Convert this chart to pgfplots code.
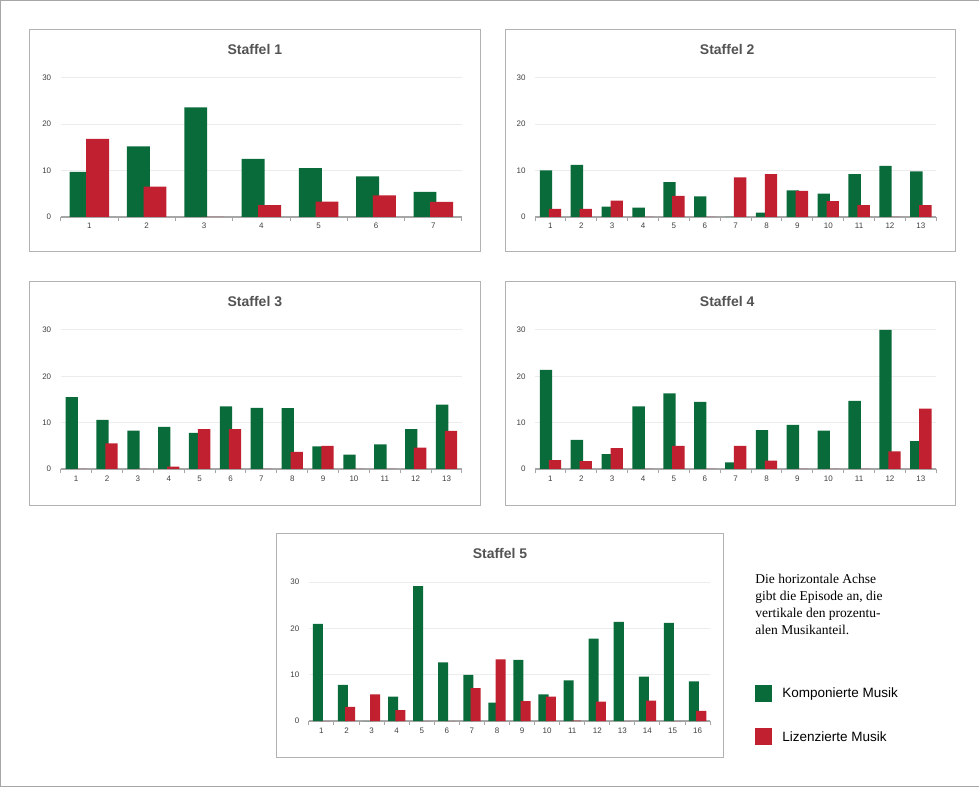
\documentclass[border=0pt]{standalone}
\usepackage{pgfplots}
\pgfplotsset{compat=1.18}
\usepackage{fontspec}
\setmainfont{Liberation Sans}
\newfontfamily\serif{Liberation Serif}
\definecolor{kgreen}{HTML}{0A6B3A}
\definecolor{kred}{HTML}{C0202F}
\definecolor{tgray}{HTML}{404040}
\pgfplotsset{panel/.style={
  scale only axis, width=401pt, height=139pt, anchor=south west,
  ymin=0, ymax=30, ytick={0,10,20,30}, clip=false,
  axis x line=bottom, axis y line=left,
  y axis line style={draw=none}, x axis line style={draw=gray!70, line width=1.5pt, -},
  ymajorgrids, grid style={gray!15, line width=0.8pt},
  major tick length=0pt, minor tick length=4pt,
  tick align=outside, minor tick style={gray!70, line width=1pt},
  ticklabel style={font=\fontsize{8}{9}\selectfont, text=tgray},
  yticklabel style={xshift=-6pt}, xticklabel style={yshift=-3pt},
  /pgf/number format/assume math mode=true,
  ybar, bar width=0.4, enlarge x limits=false,
  every axis plot/.append style={draw=none}
}}
\begin{document}
\begin{tikzpicture}[x=1pt,y=1pt]
\draw[gray!70] (0.5,0.5) rectangle (978.5,786.5);
\foreach \a/\b/\c/\d in {30/535/480/757,505/535/955/757,30/282/480/505,505/282/955/505,277/30/723/254}
  \draw[gray!60, line width=0.8pt] (\a,\b) rectangle (\c,\d);
\node[font=\bfseries\fontsize{14}{16}\selectfont, text=tgray!90] at (255,737) {Staffel 1};
\node[font=\bfseries\fontsize{14}{16}\selectfont, text=tgray!90] at (727,737) {Staffel 2};
\node[font=\bfseries\fontsize{14}{16}\selectfont, text=tgray!90] at (255,485) {Staffel 3};
\node[font=\bfseries\fontsize{14}{16}\selectfont, text=tgray!90] at (727,485) {Staffel 4};
\node[font=\bfseries\fontsize{14}{16}\selectfont, text=tgray!90] at (500,234) {Staffel 5};

\begin{axis}[panel, at={(61pt,570pt)}, xmin=0.5, xmax=7.5, xtick={1,...,7}, minor xtick={0.5,1.5,...,7.5}]
\addplot[fill=kgreen, bar shift=-0.145] coordinates {(1,9.7)(2,15.2)(3,23.6)(4,12.5)(5,10.5)(6,8.7)(7,5.4)};
\addplot[fill=kred, bar shift=0.145] coordinates {(1,16.8)(2,6.5)(3,0)(4,2.5)(5,3.3)(6,4.6)(7,3.2)};
\end{axis}

\begin{axis}[panel, at={(535pt,570pt)}, xmin=0.5, xmax=13.5, xtick={1,...,13}, minor xtick={0.5,1.5,...,13.5}]
\addplot[fill=kgreen, bar shift=-0.145] coordinates {(1,10.0)(2,11.2)(3,2.2)(4,2.0)(5,7.5)(6,4.4)(7,0)(8,0.9)(9,5.7)(10,5.0)(11,9.2)(12,11.0)(13,9.8)};
\addplot[fill=kred, bar shift=0.145] coordinates {(1,1.7)(2,1.7)(3,3.5)(4,0)(5,4.5)(6,0)(7,8.5)(8,9.2)(9,5.6)(10,3.4)(11,2.5)(12,0)(13,2.5)};
\end{axis}

\begin{axis}[panel, at={(61pt,318pt)}, xmin=0.5, xmax=13.5, xtick={1,...,13}, minor xtick={0.5,1.5,...,13.5}]
\addplot[fill=kgreen, bar shift=-0.145] coordinates {(1,15.5)(2,10.6)(3,8.3)(4,9.1)(5,7.8)(6,13.5)(7,13.2)(8,13.1)(9,4.9)(10,3.1)(11,5.3)(12,8.6)(13,13.9)};
\addplot[fill=kred, bar shift=0.145] coordinates {(1,0)(2,5.5)(3,0)(4,0.5)(5,8.6)(6,8.6)(7,0)(8,3.7)(9,5.0)(10,0)(11,0)(12,4.6)(13,8.2)};
\end{axis}

\begin{axis}[panel, at={(535pt,318pt)}, xmin=0.5, xmax=13.5, xtick={1,...,13}, minor xtick={0.5,1.5,...,13.5}]
\addplot[fill=kgreen, bar shift=-0.145] coordinates {(1,21.4)(2,6.3)(3,3.2)(4,13.5)(5,16.3)(6,14.5)(7,1.4)(8,8.4)(9,9.5)(10,8.3)(11,14.7)(12,30)(13,6.0)};
\addplot[fill=kred, bar shift=0.145] coordinates {(1,1.9)(2,1.7)(3,4.5)(4,0)(5,5.0)(6,0)(7,5.0)(8,1.8)(9,0)(10,0)(11,0)(12,3.8)(13,13.0)};
\end{axis}

\begin{axis}[panel, at={(309pt,66pt)}, xmin=0.5, xmax=16.5, xtick={1,...,16}, minor xtick={0.5,1.5,...,16.5}]
\addplot[fill=kgreen, bar shift=-0.145] coordinates {(1,21.0)(2,7.8)(3,0)(4,5.3)(5,29.1)(6,12.7)(7,10.0)(8,4.0)(9,13.2)(10,5.8)(11,8.8)(12,17.8)(13,21.4)(14,9.6)(15,21.2)(16,8.6)};
\addplot[fill=kred, bar shift=0.145] coordinates {(1,0)(2,3.1)(3,5.8)(4,2.4)(5,0)(6,0)(7,7.1)(8,13.3)(9,4.3)(10,5.3)(11,0.1)(12,4.2)(13,0)(14,4.4)(15,0)(16,2.2)};
\end{axis}

\node[anchor=north west, align=left, font=\serif\fontsize{13.5}{17}\selectfont, inner sep=0pt] at (755,213)
 {Die horizontale Achse\\gibt die Episode an, die\\vertikale den prozentu-\\alen Musikanteil.};
\fill[kgreen] (755,85) rectangle (772,102);
\node[anchor=west, font=\fontsize{13.5}{16}\selectfont, inner sep=0pt] at (782,93.5) {Komponierte Musik};
\fill[kred] (755,42) rectangle (772,59);
\node[anchor=west, font=\fontsize{13.5}{16}\selectfont, inner sep=0pt] at (782,50.5) {Lizenzierte Musik};
\end{tikzpicture}
\end{document}
